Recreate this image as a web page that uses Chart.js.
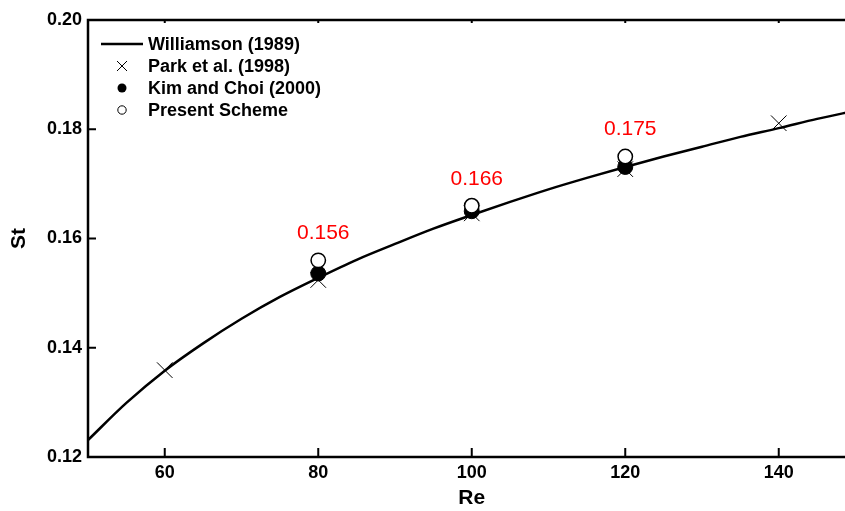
<!DOCTYPE html>
<html>
<head>
<meta charset="utf-8">
<script src="https://cdn.jsdelivr.net/npm/chart.js@4/dist/chart.umd.min.js"></script>
<style>
  html, body { margin: 0; padding: 0; background: #fff; overflow: hidden; }
  #wrap { width: 845px; height: 511px; overflow: hidden; position: relative; }
  canvas { display: block; }
</style>
</head>
<body>
<div id="wrap"><canvas id="c" width="870" height="511"></canvas></div>
<script>
// ---- data ----
const reCurve = [50, 55, 60, 65, 70, 75, 80, 85, 90, 95, 100, 105, 110, 115, 120, 125, 130, 135, 140, 145, 150];
const stWilliamson = [0.1231, 0.1299, 0.1358, 0.1408, 0.1453, 0.1493, 0.1528, 0.1561, 0.1590, 0.1618, 0.1643,
                      0.1667, 0.1690, 0.1711, 0.1731, 0.1750, 0.1768, 0.1786, 0.1802, 0.1819, 0.1834];
const rePark = [60, 80, 100, 120, 140];
const stPark = [0.1359, 0.1524, 0.1646, 0.1727, 0.1811];
const reKim = [80, 100, 120];
const stKim = [0.1536, 0.1650, 0.1731];
const rePresent = [80, 100, 120];
const stPresent = [0.156, 0.166, 0.175];
const xTickValues = [60, 80, 100, 120, 140];
const yTickValues = [0.12, 0.14, 0.16, 0.18, 0.20];
const seriesNames = ['Williamson (1989)', 'Park et al. (1998)', 'Kim and Choi (2000)', 'Present Scheme'];

const FONT = '"Liberation Sans", Arial, Helvetica, sans-serif';
const pts = (xs, ys) => xs.map((x, i) => ({ x: x, y: ys[i] }));

const framePlugin = {
  id: 'frame',
  afterDatasetsDraw(chart) {
    const { ctx, chartArea: a, scales } = chart;
    ctx.save();
    ctx.strokeStyle = '#000';
    ctx.lineWidth = 2.5;
    ctx.strokeRect(a.left, a.top, a.right - a.left, a.bottom - a.top);
    ctx.lineWidth = 2;
    ctx.beginPath();
    xTickValues.forEach(v => {
      const px = scales.x.getPixelForValue(v);
      ctx.moveTo(px, a.bottom); ctx.lineTo(px, a.bottom - 9);
      ctx.moveTo(px, a.top); ctx.lineTo(px, a.top + 3);
    });
    yTickValues.forEach(v => {
      const py = scales.y.getPixelForValue(v);
      ctx.moveTo(a.left, py); ctx.lineTo(a.left + 8, py);
      ctx.moveTo(a.right, py); ctx.lineTo(a.right - 8, py);
    });
    ctx.stroke();

    // red value labels above the present scheme points
    ctx.fillStyle = '#ff0000';
    ctx.font = '21px ' + FONT;
    ctx.textAlign = 'center';
    ctx.textBaseline = 'middle';
    rePresent.forEach((r, i) => {
      const px = scales.x.getPixelForValue(r);
      const py = scales.y.getPixelForValue(stPresent[i]);
      ctx.fillText(stPresent[i].toFixed(3), px + 5, py - 27);
    });
    ctx.restore();
  }
};

const legendPlugin = {
  id: 'innerLegend',
  afterDraw(chart) {
    const { ctx } = chart;
    const x0 = 122, tx = 148, y0 = 44, dy = 22;
    ctx.save();
    ctx.font = 'bold 18px ' + FONT;
    ctx.textBaseline = 'middle';
    ctx.textAlign = 'left';
    ctx.fillStyle = '#000';
    ctx.strokeStyle = '#000';
    chart.data.datasets.forEach((ds, i) => {
      const y = y0 + i * dy;
      if (i === 0) {
        ctx.lineWidth = 2.5;
        ctx.beginPath(); ctx.moveTo(101, y); ctx.lineTo(143, y); ctx.stroke();
      } else if (i === 1) {
        ctx.lineWidth = 1;
        ctx.beginPath();
        ctx.moveTo(x0 - 5, y - 5); ctx.lineTo(x0 + 5, y + 5);
        ctx.moveTo(x0 + 5, y - 5); ctx.lineTo(x0 - 5, y + 5);
        ctx.stroke();
      } else if (i === 2) {
        ctx.beginPath(); ctx.arc(x0, y, 4.5, 0, Math.PI * 2); ctx.fill();
      } else {
        ctx.lineWidth = 1;
        ctx.fillStyle = '#fff';
        ctx.beginPath(); ctx.arc(x0, y, 4.2, 0, Math.PI * 2); ctx.fill(); ctx.stroke();
        ctx.fillStyle = '#000';
      }
      ctx.fillText(ds.label, tx, y + 1);
    });
    ctx.restore();
  }
};

new Chart(document.getElementById('c'), {
  type: 'scatter',
  data: {
    datasets: [
      {
        type: 'line', label: seriesNames[0], data: pts(reCurve, stWilliamson),
        borderColor: '#000', borderWidth: 2.5, pointRadius: 0, fill: false,
        cubicInterpolationMode: 'monotone', order: 3
      },
      {
        label: seriesNames[1], data: pts(rePark, stPark),
        pointStyle: 'crossRot', pointRadius: 11, borderColor: '#000', borderWidth: 1,
        backgroundColor: '#000', order: 2
      },
      {
        label: seriesNames[2], data: pts(reKim, stKim),
        pointStyle: 'circle', pointRadius: 7.5, borderColor: '#000', borderWidth: 1,
        backgroundColor: '#000', order: 1
      },
      {
        label: seriesNames[3], data: pts(rePresent, stPresent),
        pointStyle: 'circle', pointRadius: 7.2, borderColor: '#000', borderWidth: 1.5,
        backgroundColor: '#fff', order: 0
      }
    ]
  },
  options: {
    responsive: false,
    animation: false,
    devicePixelRatio: 1,
    layout: { padding: { top: 20, right: 14.5, left: 0, bottom: 0 } },
    plugins: { legend: { display: false }, tooltip: { enabled: false } },
    scales: {
      x: {
        type: 'linear', min: 50, max: 150,
        grid: { display: false, drawTicks: false },
        border: { display: false },
        afterBuildTicks: s => { s.ticks = xTickValues.map(v => ({ value: v })); },
        afterFit: s => { s.height = 54; },
        ticks: { color: '#000', padding: 5, font: { family: FONT, size: 18, weight: 'bold' } },
        title: { display: true, text: 'Re', color: '#000', padding: { top: 0, bottom: 0 },
                 font: { family: FONT, size: 21, weight: 'bold' } }
      },
      y: {
        type: 'linear', min: 0.12, max: 0.20,
        grid: { display: false, drawTicks: false },
        border: { display: false },
        afterBuildTicks: s => { s.ticks = yTickValues.map(v => ({ value: v })); },
        afterFit: s => { s.width = 88; },
        ticks: { color: '#000', padding: 6, font: { family: FONT, size: 18, weight: 'bold' },
                 callback: v => Number(v).toFixed(2) },
        title: { display: true, text: 'St', color: '#000', padding: { top: 7, bottom: 0 },
                 font: { family: FONT, size: 21, weight: 'bold' } }
      }
    }
  },
  plugins: [framePlugin, legendPlugin]
});
</script>
</body>
</html>
